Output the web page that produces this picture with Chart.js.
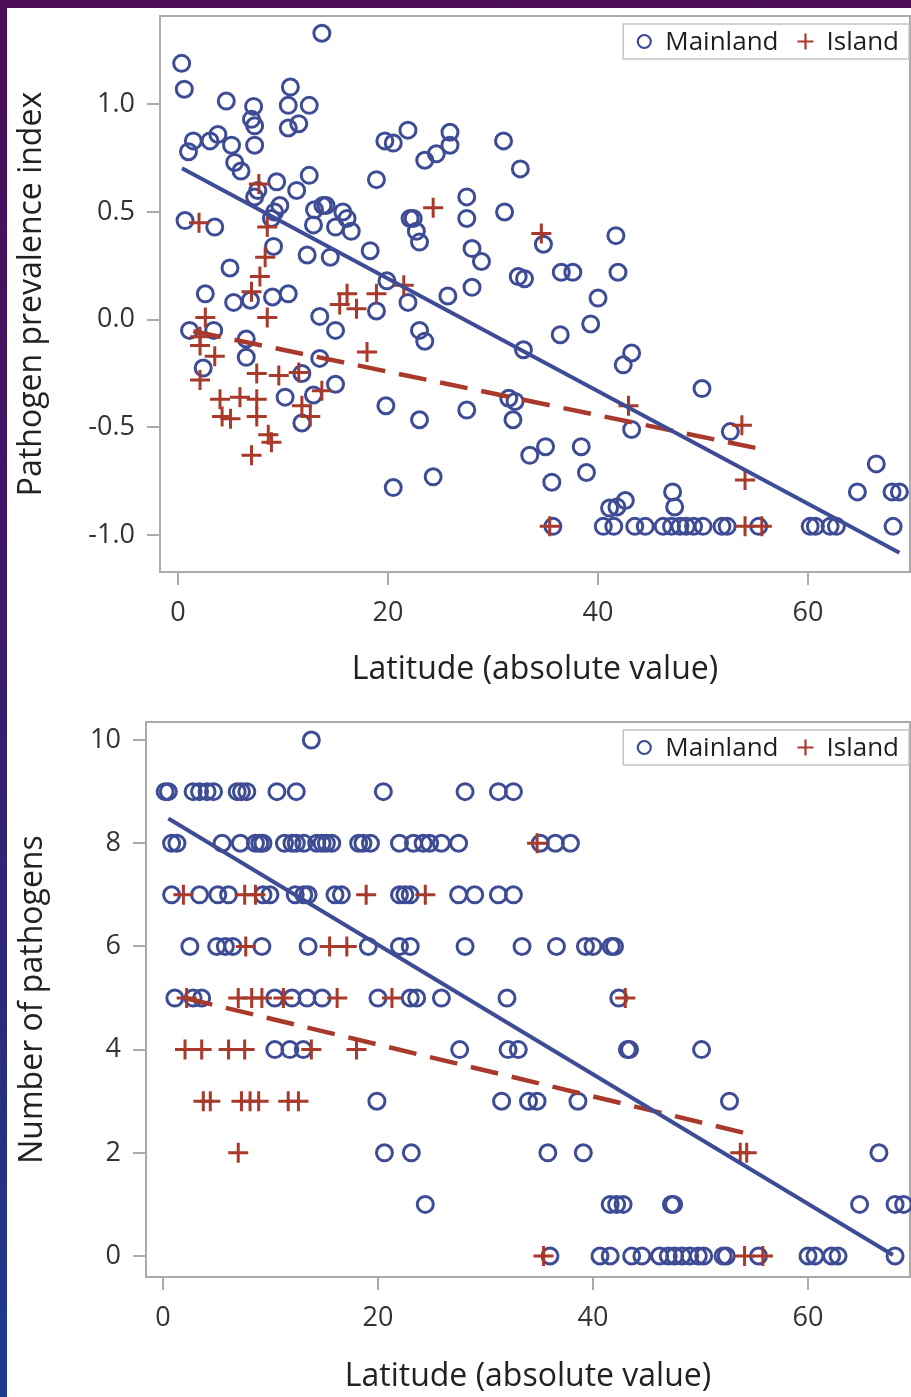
<!DOCTYPE html>
<html lang="en">
<head>
<meta charset="UTF-8" />
<title>Pathogens and latitude</title>
<script src="https://cdn.jsdelivr.net/npm/chart.js"></script>
<style>
  html, body { margin: 0; padding: 0; }
  body {
    width: 911px; height: 1397px; overflow: hidden; position: relative;
    background: linear-gradient(to bottom, #4b0d58 0%, #3e1668 40%, #1c3c8e 100%);
  }
  #sheet { position: absolute; left: 7px; top: 8px; right: 0; bottom: 0; background: #fff; }
  canvas { position: absolute; left: 0; }
  #top-chart { top: 0; }
  #bottom-chart { top: 700px; }
</style>
</head>
<body>
<div id="sheet"></div>
<canvas id="top-chart" width="911" height="700"></canvas>
<canvas id="bottom-chart" width="911" height="697"></canvas>

<script>
// ---- tick labels ----
const latitudeTicks = [0, 20, 40, 60];
const prevalenceTicks = [-1, -0.5, 0, 0.5, 1];
const pathogenTicks = [0, 2, 4, 6, 8, 10];

// ---- top panel: pathogen prevalence index ----
const topMainLat = [
  13.7, 0.35, 0.6, 4.6, 7.2, 10.7, 10.5, 12.5, 7.0, 7.3,
  10.5, 11.5, 7.3, 1.46, 1.0, 3.05, 3.8, 5.1, 5.4, 6.0,
  9.4, 12.5, 7.3, 7.6, 11.3, 0.67, 3.5, 9.2, 9.7, 8.9,
  13.0, 13.8, 14.1, 12.9, 15.7, 16.1, 16.5, 15.0, 18.9, 19.7,
  20.5, 21.9, 23.5, 24.6, 25.9, 25.9, 31.0, 32.6, 22.1, 22.4,
  22.7, 23.0, 27.5, 27.5, 28.0, 28.9, 31.1, 32.4, 33.0, 28.0,
  25.7, 21.9, 19.9, 18.9, 18.3, 14.5, 12.3, 9.1, 4.95, 2.6,
  5.3, 6.9, 9.0, 10.5, 13.5, 15.0, 23.0, 23.5, 1.1, 3.4,
  6.5, 2.4, 6.5, 13.5, 11.8, 15.0, 10.2, 12.9, 11.8, 19.8,
  23.0, 27.5, 20.5, 24.3, 32.9, 31.5, 32.1, 31.9, 33.5, 34.8,
  41.7, 36.5, 37.6, 41.9, 40.0, 39.3, 36.4, 43.2, 42.4, 49.9,
  43.2, 52.6, 35.0, 38.4, 35.6, 38.9, 41.1, 41.8, 42.6, 47.1,
  47.3, 66.5, 64.7, 68.0, 68.7, 68.1,
  35.7, 40.5, 41.5, 43.5, 44.5, 46.2, 47.0, 47.8, 48.4, 49.1,
  50.0, 51.8, 52.3, 55.3, 60.2, 60.7, 62.1, 62.7
];
const topMainIdx = [
  1.33, 1.19, 1.07, 1.015, 0.99, 1.08, 0.995, 0.995, 0.93, 0.90,
  0.89, 0.91, 0.81, 0.83, 0.78, 0.83, 0.86, 0.81, 0.73, 0.69,
  0.64, 0.67, 0.57, 0.60, 0.60, 0.46, 0.43, 0.50, 0.53, 0.47,
  0.51, 0.53, 0.53, 0.44, 0.50, 0.47, 0.41, 0.43, 0.65, 0.83,
  0.82, 0.88, 0.74, 0.77, 0.81, 0.87, 0.83, 0.70, 0.47, 0.47,
  0.41, 0.36, 0.57, 0.47, 0.33, 0.27, 0.50, 0.20, 0.19, 0.15,
  0.11, 0.08, 0.18, 0.04, 0.32, 0.29, 0.30, 0.34, 0.24, 0.12,
  0.08, 0.09, 0.105, 0.12, 0.015, -0.05, -0.05, -0.10, -0.05, -0.05,
  -0.09, -0.225, -0.175, -0.18, -0.25, -0.30, -0.36, -0.35, -0.48, -0.40,
  -0.465, -0.42, -0.78, -0.73, -0.14, -0.365, -0.38, -0.465, -0.63, 0.35,
  0.39, 0.22, 0.22, 0.22, 0.10, -0.02, -0.07, -0.155, -0.21, -0.32,
  -0.51, -0.52, -0.59, -0.59, -0.755, -0.71, -0.875, -0.87, -0.84, -0.80,
  -0.87, -0.67, -0.80, -0.80, -0.80, -0.96,
  -0.96, -0.96, -0.96, -0.96, -0.96, -0.96, -0.96, -0.96, -0.96, -0.96,
  -0.96, -0.96, -0.96, -0.96, -0.96, -0.96, -0.96, -0.96
];
const topIslandLat = [
  2.0, 7.7, 8.5, 8.3, 7.8, 7.0, 8.5, 24.3, 16.1, 15.4,
  17.0, 18.9, 21.5, 2.6, 2.1, 2.1, 3.5, 2.1, 7.5, 9.6,
  11.5, 13.7, 4.0, 5.9, 7.5, 4.2, 5.0, 7.5, 11.8, 12.6,
  8.6, 8.9, 7.0, 18.0, 34.6, 42.9, 53.7, 54.0, 35.4, 54.0,
  55.6
];
const topIslandIdx = [
  0.45, 0.63, 0.43, 0.29, 0.20, 0.13, 0.01, 0.52, 0.12, 0.07,
  0.05, 0.12, 0.16, 0.01, -0.08, -0.12, -0.17, -0.28, -0.25, -0.26,
  -0.245, -0.33, -0.37, -0.36, -0.37, -0.45, -0.46, -0.45, -0.40, -0.45,
  -0.535, -0.57, -0.63, -0.15, 0.40, -0.40, -0.49, -0.745, -0.96, -0.96,
  -0.96
];
const topMainFitLat = [0.38, 68.7];
const topMainFitIdx = [0.703, -1.083];
const topIslandFitLat = [1.46, 55.4];
const topIslandFitIdx = [-0.054, -0.60];

// ---- bottom panel: number of pathogens ----
const bottomMainLat = [
  13.8,
  0.2, 0.5, 2.8, 3.4, 4.1, 4.7, 6.9, 7.3, 7.8, 10.6, 12.4, 20.5, 28.1, 31.2, 32.6,
  0.8, 1.3, 5.5, 7.2, 8.6, 9.0, 9.3, 11.3, 12.0, 12.4, 13.1, 14.3, 14.8, 15.2, 15.7,
  18.2, 18.6, 19.3, 22.0, 23.3, 24.2, 24.8, 25.9, 27.5, 35.1, 36.5, 37.9,
  0.8, 3.4, 5.1, 6.1, 9.3, 9.95, 12.3, 13.1, 13.5, 16.0, 16.6, 22.0, 22.5, 23.0, 27.5, 29.0, 31.2, 32.6,
  2.5, 5.0, 5.8, 6.5, 9.2, 13.5, 19.1, 22.0, 23.0, 28.1, 33.4, 36.6, 39.3, 40.0, 41.7, 42.0,
  1.1, 2.8, 3.6, 10.4, 12.0, 13.4, 14.8, 20.0, 23.0, 23.6, 25.9, 32.0, 42.4,
  10.4, 11.8, 13.05, 27.6, 32.1, 33.05, 43.2, 43.4, 50.1,
  19.9, 31.5, 34.0, 34.8, 38.6, 52.7,
  20.6, 23.1, 35.8, 39.1, 66.6,
  24.4, 41.6, 42.2, 42.8, 47.3, 47.5, 64.8, 68.1, 68.9,
  36.0, 40.65, 41.6, 43.6, 44.55, 46.2, 47.0, 47.6, 48.3, 49.0,
  49.8, 50.3, 52.1, 52.4, 55.4, 60.0, 60.65, 62.2, 62.8, 68.1
];
const bottomMainCount = [
  10,
  9, 9, 9, 9, 9, 9, 9, 9, 9, 9, 9, 9, 9, 9, 9,
  8, 8, 8, 8, 8, 8, 8, 8, 8, 8, 8, 8, 8, 8, 8,
  8, 8, 8, 8, 8, 8, 8, 8, 8, 8, 8, 8,
  7, 7, 7, 7, 7, 7, 7, 7, 7, 7, 7, 7, 7, 7, 7, 7, 7, 7,
  6, 6, 6, 6, 6, 6, 6, 6, 6, 6, 6, 6, 6, 6, 6, 6,
  5, 5, 5, 5, 5, 5, 5, 5, 5, 5, 5, 5, 5,
  4, 4, 4, 4, 4, 4, 4, 4, 4,
  3, 3, 3, 3, 3, 3,
  2, 2, 2, 2, 2,
  1, 1, 1, 1, 1, 1, 1, 1, 1,
  0, 0, 0, 0, 0, 0, 0, 0, 0, 0,
  0, 0, 0, 0, 0, 0, 0, 0, 0, 0
];
const bottomIslandLat = [
  34.8,
  1.9, 7.6, 8.6, 18.9, 24.4,
  7.7, 15.5, 17.1,
  2.2, 7.0, 8.25, 9.2, 11.2, 16.2, 21.3, 43.0,
  2.05, 3.6, 6.1, 7.6, 13.8, 18.0,
  3.75, 4.4, 7.3, 8.1, 8.9, 11.65, 12.6,
  7.0, 53.7, 54.3,
  35.4, 54.1, 55.8
];
const bottomIslandCount = [
  8,
  7, 7, 7, 7, 7,
  6, 6, 6,
  5, 5, 5, 5, 5, 5, 5, 5,
  4, 4, 4, 4, 4, 4,
  3, 3, 3, 3, 3, 3, 3,
  2, 2, 2,
  0, 0, 0
];
const bottomMainFitLat = [0.5, 67.9];
const bottomMainFitCount = [8.48, 0.02];
const bottomIslandFitLat = [2.05, 55.2];
const bottomIslandFitCount = [5.0, 2.33];

// ---- styling ----
Chart.defaults.font.family = "'Open Sans', sans-serif";
const blue = "#3e4c95";
const red = "#a8392b";
const frameGray = "#ababab";

function pts(xs, ys) {
  return xs.map((x, i) => ({ x: x, y: ys[i] }));
}

// drop the extra room chart.js keeps for end labels, the plot box is fixed
function fixAxis(size, key) {
  return (s) => {
    s[key] = size;
    s.paddingTop = 0;
    s.paddingBottom = 0;
    s.paddingLeft = 0;
    s.paddingRight = 0;
  };
}

// gray box round the plot area
const plotFrame = {
  id: "plotFrame",
  beforeDatasetsDraw(chart) {
    const { ctx, chartArea: a } = chart;
    ctx.save();
    ctx.strokeStyle = frameGray;
    ctx.lineWidth = 2;
    ctx.strokeRect(a.left, a.top, a.right - a.left, a.bottom - a.top);
    ctx.restore();
  },
};

// legend inside the top right corner, with a thin box
const insetLegend = {
  id: "insetLegend",
  afterDatasetsDraw(chart, args, opts) {
    const { ctx, chartArea } = chart;
    const items = opts.labels.map((l) => chart.data.datasets.find((d) => d.label === l));
    ctx.save();
    ctx.font = opts.fontSize + "px 'Open Sans', sans-serif";
    const markW = 16, padL = 13, padR = 10, gapText = 13, gapItem = 19;
    const widths = items.map((d) => ctx.measureText(d.label).width);
    let boxW = padL + padR - gapItem;
    widths.forEach((w) => (boxW += markW + gapText + w + gapItem));
    const right = chartArea.right - 1;
    const left = right - boxW;
    const top = chartArea.top + opts.offsetTop;
    const cy = top + opts.height / 2;
    ctx.fillStyle = "#fff";
    ctx.fillRect(left, top, boxW, opts.height);
    ctx.strokeStyle = "#c4c4c4";
    ctx.lineWidth = 1.5;
    ctx.strokeRect(left, top, boxW, opts.height);

    let x = left + padL;
    items.forEach((d, i) => {
      const cx = x + markW / 2;
      ctx.strokeStyle = d.pointBorderColor;
      ctx.lineWidth = 2.2;
      ctx.beginPath();
      if (d.pointStyle === "circle") {
        ctx.arc(cx, cy, 6.5, 0, Math.PI * 2);
      } else {
        ctx.moveTo(cx - 8, cy);
        ctx.lineTo(cx + 8, cy);
        ctx.moveTo(cx, cy - 8);
        ctx.lineTo(cx, cy + 8);
      }
      ctx.stroke();
      x += markW + gapText;
      ctx.fillStyle = "#1e1e1e";
      ctx.textBaseline = "middle";
      ctx.textAlign = "left";
      ctx.fillText(d.label, x, cy + 1);
      x += widths[i] + gapItem;
    });
    ctx.restore();
  },
};

function buildChart(id, o) {
  return new Chart(document.getElementById(id), {
    type: "scatter",
    data: {
      datasets: [
        {
          label: "Mainland fit",
          data: pts(o.mainFitX, o.mainFitY),
          showLine: true,
          borderColor: blue,
          borderWidth: 4,
          pointRadius: 0,
          order: 0,
        },
        {
          label: "Island fit",
          data: pts(o.islandFitX, o.islandFitY),
          showLine: true,
          borderColor: red,
          borderWidth: 4.5,
          borderDash: [28, 14],
          pointRadius: 0,
          order: 0,
        },
        {
          label: "Island",
          data: pts(o.islandX, o.islandY),
          pointStyle: "cross",
          pointRadius: 10,
          pointBorderColor: red,
          pointBorderWidth: 3,
          order: 1,
        },
        {
          label: "Mainland",
          data: pts(o.mainX, o.mainY),
          pointStyle: "circle",
          pointRadius: 8,
          pointBorderColor: blue,
          pointBackgroundColor: "rgba(0,0,0,0)",
          pointBorderWidth: 3,
          order: 2,
        },
      ],
    },
    options: {
      responsive: false,
      animation: false,
      events: [],
      clip: false,
      layout: { autoPadding: false, padding: { left: 0, right: 1, top: o.padTop, bottom: 0 } },
      plugins: {
        legend: { display: false },
        tooltip: { enabled: false },
        insetLegend: { labels: ["Mainland", "Island"], fontSize: 26, offsetTop: 8, height: 35 },
      },
      scales: {
        x: {
          type: "linear",
          min: o.xMin,
          max: o.xMax,
          afterBuildTicks: (s) => { s.ticks = latitudeTicks.map((v) => ({ value: v })); },
          afterFit: fixAxis(o.xAxisHeight, "height"),
          border: { display: false },
          grid: { drawOnChartArea: false, drawTicks: true, tickLength: 13, color: frameGray, lineWidth: 2 },
          ticks: { padding: 12, autoSkip: false, maxRotation: 0, color: "#333", font: { size: 27 } },
          title: {
            display: true,
            text: "Latitude (absolute value)",
            color: "#222",
            font: { size: 32 },
            padding: { top: 0, bottom: o.xTitlePad },
          },
        },
        y: {
          type: "linear",
          min: o.yMin,
          max: o.yMax,
          afterBuildTicks: (s) => { s.ticks = o.yTicks.map((v) => ({ value: v })); },
          afterFit: fixAxis(o.yAxisWidth, "width"),
          border: { display: false },
          grid: { drawOnChartArea: false, drawTicks: true, tickLength: 13, color: frameGray, lineWidth: 2 },
          ticks: { padding: 12, autoSkip: false, color: "#333", font: { size: 27 }, callback: o.yFormat },
          title: {
            display: true,
            text: o.yTitle,
            color: "#222",
            font: { size: 32 },
            padding: { top: o.yTitlePad, bottom: 0 },
          },
        },
      },
    },
    plugins: [plotFrame, insetLegend],
  });
}

buildChart("top-chart", {
  mainX: topMainLat, mainY: topMainIdx,
  islandX: topIslandLat, islandY: topIslandIdx,
  mainFitX: topMainFitLat, mainFitY: topMainFitIdx,
  islandFitX: topIslandFitLat, islandFitY: topIslandFitIdx,
  xMin: -1.714, xMax: 69.71, yMin: -1.172, yMax: 1.41,
  yTicks: prevalenceTicks,
  yFormat: (v) => v.toFixed(1),
  yTitle: "Pathogen prevalence index",
  padTop: 16, xAxisHeight: 128, yAxisWidth: 160,
  xTitlePad: 11, yTitlePad: 13,
});

buildChart("bottom-chart", {
  mainX: bottomMainLat, mainY: bottomMainCount,
  islandX: bottomIslandLat, islandY: bottomIslandCount,
  mainFitX: bottomMainFitLat, mainFitY: bottomMainFitCount,
  islandFitX: bottomIslandFitLat, islandFitY: bottomIslandFitCount,
  xMin: -1.58, xMax: 69.49, yMin: -0.407, yMax: 10.35,
  yTicks: pathogenTicks,
  yFormat: (v) => String(v),
  yTitle: "Number of pathogens",
  padTop: 22, xAxisHeight: 120, yAxisWidth: 146,
  xTitlePad: 1, yTitlePad: 14,
});
</script>
</body>
</html>
